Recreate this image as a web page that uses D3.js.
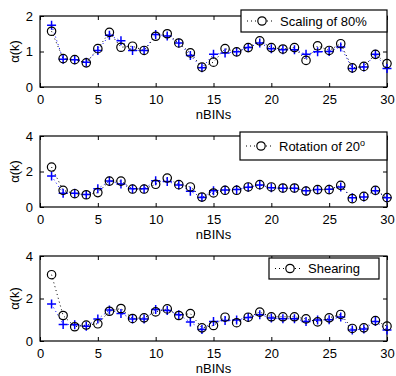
<!doctype html>
<html lang="en">
<head>
  <meta charset="utf-8">
  <title>alpha(k) vs nBINs</title>
  <script src="https://cdn.jsdelivr.net/npm/d3@7"></script>
  <style>
    body { margin: 0; background: #fff; }
    svg text { font-family: "Liberation Sans", Arial, sans-serif; fill: #000; }
  </style>
</head>
<body>
<svg id="chart" width="396" height="376"></svg>
<script>
  // bin numbers on the x axis
  const nBins = [1, 2, 3, 4, 5, 6, 7, 8, 9, 10, 11, 12, 13, 14, 15,
                 16, 17, 18, 19, 20, 21, 22, 23, 24, 25, 26, 27, 28, 29, 30];

  // reference alpha(k) (blue +), same in every panel
  const original = [1.74, 0.78, 0.77, 0.70, 1.03, 1.46, 1.30, 1.03, 1.03, 1.48,
                    1.44, 1.24, 0.89, 0.54, 0.92, 0.96, 0.99, 1.11, 1.24, 1.08,
                    1.05, 1.05, 0.92, 0.99, 1.00, 1.13, 0.52, 0.56, 0.92, 0.52];

  // distorted alpha(k) (black circles)
  const scaling = [1.57, 0.80, 0.77, 0.68, 1.08, 1.54, 1.12, 1.15, 1.03, 1.43,
                   1.50, 1.24, 0.96, 0.56, 0.70, 1.08, 0.99, 1.11, 1.30, 1.11,
                   1.07, 1.11, 0.75, 1.16, 1.03, 1.22, 0.54, 0.58, 0.92, 0.66];
  const rotation = [2.25, 0.94, 0.75, 0.69, 0.81, 1.46, 1.46, 1.01, 1.01, 1.28,
                    1.63, 1.26, 1.13, 0.56, 0.79, 0.94, 0.94, 1.13, 1.26, 1.13,
                    1.07, 1.07, 0.90, 0.98, 0.98, 1.22, 0.47, 0.60, 0.94, 0.53];
  const shearing = [3.12, 1.20, 0.67, 0.75, 0.81, 1.40, 1.53, 1.06, 1.09, 1.37,
                    1.51, 1.20, 1.29, 0.62, 0.73, 1.12, 0.86, 1.12, 1.36, 1.14,
                    1.14, 1.14, 1.04, 0.90, 1.09, 1.25, 0.59, 0.62, 0.96, 0.70];

  const xTicks = [0, 5, 10, 15, 20, 25, 30];
  const yTicksSmall = [0, 1, 2];
  const yTicksBig = [0, 2, 4];

  const panels = [
    { values: scaling, label: "Scaling of 80%", top: 16, bottom: 87, ymax: 2, yTicks: yTicksSmall,
      legend: { x0: 241, x1: 387, y0: 10, y1: 32 } },
    { values: rotation, label: "Rotation of 20", sup: "o", top: 136, bottom: 207, ymax: 4, yTicks: yTicksBig,
      legend: { x0: 240, x1: 387, y0: 132, y1: 160 } },
    { values: shearing, label: "Shearing", top: 256, bottom: 341, ymax: 4, yTicks: yTicksBig,
      legend: { x0: 269, x1: 379, y0: 258, y1: 279 } }
  ];

  const svg = d3.select("#chart");
  const left = 40, right = 387;
  const x = d3.scaleLinear().domain([0, 30]).range([left, right]);
  const fontSize = 13;
  const tickLen = 4;

  function plusPath(size) {
    const h = size / 2;
    return `M${-h},0H${h}M0,${-h}V${h}`;
  }

  panels.forEach(p => {
    const y = d3.scaleLinear().domain([0, p.ymax]).range([p.bottom, p.top]);
    const g = svg.append("g");

    // axes: bottom and left with labels, ticks inward on all four sides
    g.append("g")
      .attr("transform", `translate(0,${p.bottom})`)
      .call(d3.axisBottom(x).tickValues(xTicks).tickSize(-tickLen).tickPadding(8).tickFormat(d3.format("d")))
      .call(a => a.select(".domain").remove());
    g.append("g")
      .attr("transform", `translate(0,${p.top})`)
      .call(d3.axisTop(x).tickValues(xTicks).tickSize(-tickLen).tickFormat(""))
      .call(a => a.select(".domain").remove());
    g.append("g")
      .attr("transform", `translate(${left},0)`)
      .call(d3.axisLeft(y).tickValues(p.yTicks).tickSize(-tickLen).tickPadding(7).tickFormat(d3.format("d")))
      .call(a => a.select(".domain").remove());
    g.append("g")
      .attr("transform", `translate(${right},0)`)
      .call(d3.axisRight(y).tickValues(p.yTicks).tickSize(-tickLen).tickFormat(""))
      .call(a => a.select(".domain").remove());
    g.selectAll(".tick line").attr("stroke", "#000");
    g.selectAll(".tick text").attr("font-size", fontSize).attr("font-family", null);

    g.append("rect")
      .attr("x", left).attr("y", p.top)
      .attr("width", right - left).attr("height", p.bottom - p.top)
      .attr("fill", "none").attr("stroke", "#000").attr("stroke-width", 1.2);

    // dotted connecting lines
    const line = vals => d3.line().x((d, i) => x(nBins[i])).y(d => y(d))(vals);
    g.append("path").attr("d", line(original))
      .attr("fill", "none").attr("stroke", "#0000ff").attr("stroke-width", 1)
      .attr("stroke-dasharray", "1,3");
    g.append("path").attr("d", line(p.values))
      .attr("fill", "none").attr("stroke", "#000").attr("stroke-width", 1)
      .attr("stroke-dasharray", "1,3");

    // markers
    g.selectAll(".plus").data(original).enter().append("path")
      .attr("d", plusPath(9))
      .attr("transform", (d, i) => `translate(${x(nBins[i])},${y(d)})`)
      .attr("stroke", "#0000ff").attr("stroke-width", 1.5).attr("fill", "none");
    g.selectAll(".circ").data(p.values).enter().append("circle")
      .attr("cx", (d, i) => x(nBins[i])).attr("cy", d => y(d)).attr("r", 4.2)
      .attr("fill", "none").attr("stroke", "#000").attr("stroke-width", 1.2);

    // axis labels
    g.append("text")
      .attr("x", (left + right) / 2).attr("y", p.bottom + 32)
      .attr("text-anchor", "middle").attr("font-size", fontSize)
      .text("nBINs");
    g.append("text")
      .attr("transform", `translate(19,${(p.top + p.bottom) / 2}) rotate(-90)`)
      .attr("text-anchor", "middle").attr("font-size", fontSize)
      .text("α(k)");

    // legend
    const L = p.legend;
    const lg = g.append("g");
    lg.append("rect")
      .attr("x", L.x0).attr("y", L.y0).attr("width", L.x1 - L.x0).attr("height", L.y1 - L.y0)
      .attr("fill", "#fff").attr("stroke", "#000").attr("stroke-width", 1.2);
    const ly = (L.y0 + L.y1) / 2;
    lg.append("line")
      .attr("x1", L.x0 + 6).attr("x2", L.x0 + 34).attr("y1", ly).attr("y2", ly)
      .attr("stroke", "#000").attr("stroke-dasharray", "1,3");
    lg.append("circle")
      .attr("cx", L.x0 + 21).attr("cy", ly).attr("r", 4.2)
      .attr("fill", "#fff").attr("stroke", "#000").attr("stroke-width", 1.2);
    const t = lg.append("text")
      .attr("x", L.x0 + 39).attr("y", ly + 4.5)
      .attr("font-size", fontSize)
      .text(p.label);
    if (p.sup) {
      t.append("tspan").attr("dy", -5).attr("font-size", 9).text(p.sup);
    }
  });
</script>
</body>
</html>
